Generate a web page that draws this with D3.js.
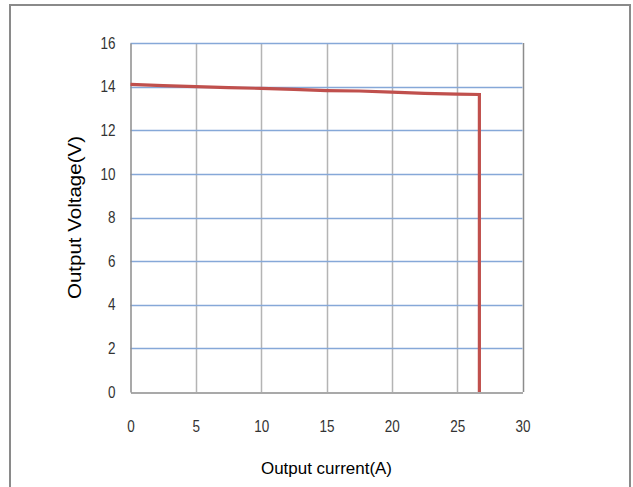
<!DOCTYPE html>
<html>
<head>
<meta charset="utf-8">
<script src="https://cdn.jsdelivr.net/npm/d3@7"></script>
<style>
  body { margin: 0; background: #fff; }
  svg text { font-family: "Liberation Sans", Arial, sans-serif; }
</style>
</head>
<body>
<div id="chart"></div>
<script>
// Output current (A) vs output voltage (V)
var currents = [0, 2.5, 5, 7.5, 10, 12.5, 15, 17.5, 20, 22.5, 25, 26.7, 26.7];
var voltages = [14.1, 14.05, 14.0, 13.95, 13.92, 13.87, 13.82, 13.8, 13.75, 13.69, 13.66, 13.64, 0];
var xTicks = [0, 5, 10, 15, 20, 25, 30];
var yTicks = [0, 2, 4, 6, 8, 10, 12, 14, 16];

const WIDTH = 633;
const HEIGHT = 487;
var margin = { left: 130.5, right: 110.5, top: 43, bottom: 95 };

var svg = d3.select("#chart").append("svg")
	.attr("width", WIDTH)
	.attr("height", HEIGHT);

// outer frame
svg.append("rect")
	.attr("x", 10).attr("y", 5)
	.attr("width", 620).attr("height", 500)
	.attr("fill", "none")
	.attr("stroke", "#8a8a8a")
	.attr("stroke-width", 2);

var x = d3.scaleLinear().domain([0, 30]).range([margin.left, WIDTH - margin.right]);
var y = d3.scaleLinear().domain([0, 16]).range([HEIGHT - margin.bottom, margin.top]);

// vertical grid
svg.append("g").selectAll("line")
	.data(xTicks.slice(1))
	.enter().append("line")
	.attr("x1", function(d) { return Math.round(x(d)) + 0.5; })
	.attr("x2", function(d) { return Math.round(x(d)) + 0.5; })
	.attr("y1", y(16)).attr("y2", y(0))
	.attr("stroke", function(d) { return d === 30 ? "#8c8c8c" : "#b4b4b4"; })
	.attr("stroke-width", 1.5);

// horizontal grid
svg.append("g").selectAll("line")
	.data(yTicks.slice(1))
	.enter().append("line")
	.attr("x1", x(0)).attr("x2", x(30))
	.attr("y1", function(d) { return Math.round(y(d)) + 0.5; })
	.attr("y2", function(d) { return Math.round(y(d)) + 0.5; })
	.attr("stroke", "#86a8d8")
	.attr("stroke-width", 1.5);

// axes
var xAxis = d3.axisBottom(x).tickValues(xTicks).tickSize(0).tickPadding(28);
var yAxis = d3.axisLeft(y).tickValues(yTicks).tickSize(0).tickPadding(15);

var gx = svg.append("g")
	.attr("transform", "translate(0," + (Math.round(y(0)) + 0.5) + ")")
	.call(xAxis);
var gy = svg.append("g")
	.attr("transform", "translate(" + x(0) + ",0)")
	.call(yAxis);

[gx, gy].forEach(function(g) {
	g.select(".domain").attr("stroke", "#8c8c8c").attr("stroke-width", 1.5);
	g.selectAll("text")
		.attr("fill", "#333")
		.style("font-size", "16px")
		.attr("textLength", function(d) { return String(d).length * 7.5; })
		.attr("lengthAdjust", "spacingAndGlyphs");
});

// curve
var line = d3.line()
	.x(function(d) { return x(d[0]); })
	.y(function(d) { return y(d[1]); });

svg.append("path")
	.datum(d3.zip(currents, voltages))
	.attr("d", line)
	.attr("fill", "none")
	.attr("stroke", "#c0504d")
	.attr("stroke-width", 3.2)
	.attr("stroke-linejoin", "miter");

// titles
svg.append("text")
	.attr("x", (x(0) + x(30)) / 2)
	.attr("y", 474)
	.attr("text-anchor", "middle")
	.style("font-size", "17px")
	.attr("textLength", 131)
	.attr("lengthAdjust", "spacingAndGlyphs")
	.attr("fill", "#000")
	.text("Output current(A)");

svg.append("text")
	.attr("transform", "translate(81," + ((y(0) + y(16)) / 2) + ") rotate(-90)")
	.attr("text-anchor", "middle")
	.style("font-size", "18px")
	.attr("textLength", 163)
	.attr("lengthAdjust", "spacingAndGlyphs")
	.attr("fill", "#000")
	.text("Output Voltage(V)");
</script>
</body>
</html>
